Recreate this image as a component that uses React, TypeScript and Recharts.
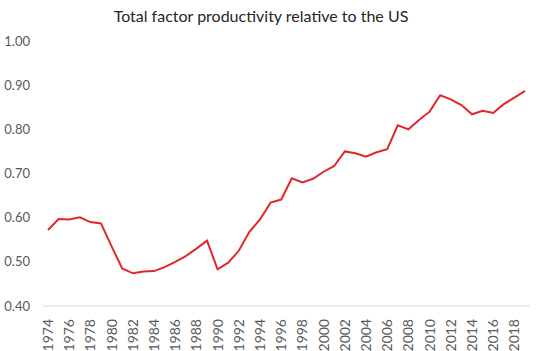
import React from 'react';
import { LineChart, Line, XAxis, YAxis } from 'recharts';

const years: string[] = [
  '1974','1975','1976','1977','1978','1979','1980','1981','1982','1983',
  '1984','1985','1986','1987','1988','1989','1990','1991','1992','1993',
  '1994','1995','1996','1997','1998','1999','2000','2001','2002','2003',
  '2004','2005','2006','2007','2008','2009','2010','2011','2012','2013',
  '2014','2015','2016','2017','2018','2019',
];

const tfp: number[] = [
  0.572, 0.597, 0.596, 0.601, 0.590, 0.587, 0.535, 0.485, 0.474, 0.478,
  0.479, 0.488, 0.500, 0.513, 0.530, 0.548, 0.483, 0.498, 0.525, 0.568,
  0.596, 0.634, 0.641, 0.689, 0.680, 0.688, 0.704, 0.717, 0.750, 0.746,
  0.738, 0.748, 0.755, 0.809, 0.800, 0.821, 0.840, 0.877, 0.868, 0.855,
  0.834, 0.842, 0.837, 0.857, 0.872, 0.887,
];

const yTicks: number[] = [0.4, 0.5, 0.6, 0.7, 0.8, 0.9, 1.0];

const title = 'Total factor productivity relative to the US';

const data = years.map((y, i) => ({ year: y, value: tfp[i] }));

const FONT = 'Lato, "Open Sans", sans-serif';

const XTick = (props: any) => {
  const { x, y, payload } = props;
  return (
    <text
      x={x}
      y={y + 5}
      transform={`rotate(-90, ${x}, ${y + 5})`}
      textAnchor="end"
      dy="0.36em"
      fontSize={14}
      fill="#595959"
      fontFamily={FONT}
    >
      {payload.value}
    </text>
  );
};

export default function App() {
  return (
    <div style={{ position: 'fixed', left: 0, top: 0, width: 540, height: 351, background: '#fff' }}>
      <div
        style={{
          position: 'absolute',
          left: 0,
          top: 6,
          width: 522,
          textAlign: 'center',
          fontFamily: FONT,
          fontSize: 16,
          color: '#262626',
          lineHeight: '20px',
        }}
      >
        {title}
      </div>
      <LineChart
        width={540}
        height={351}
        data={data}
        margin={{ top: 41, right: 10, bottom: 0, left: 0 }}
      >
        <XAxis
          dataKey="year"
          interval={1}
          height={45}
          padding={{ left: 5, right: 5 }}
          tickLine={false}
          axisLine={{ stroke: '#d9d9d9', strokeWidth: 1 }}
          tick={<XTick />}
        />
        <YAxis
          width={43}
          domain={[0.4, 1.0]}
          ticks={yTicks}
          tickFormatter={(v: number) => v.toFixed(2)}
          axisLine={false}
          tickLine={false}
          tickSize={0}
          tickMargin={13}
          tick={{ fontSize: 13, fill: '#595959', fontFamily: FONT }}
        />
        <Line
          type="linear"
          dataKey="value"
          stroke="#e3262c"
          strokeWidth={2}
          dot={false}
          isAnimationActive={false}
        />
      </LineChart>
    </div>
  );
}
